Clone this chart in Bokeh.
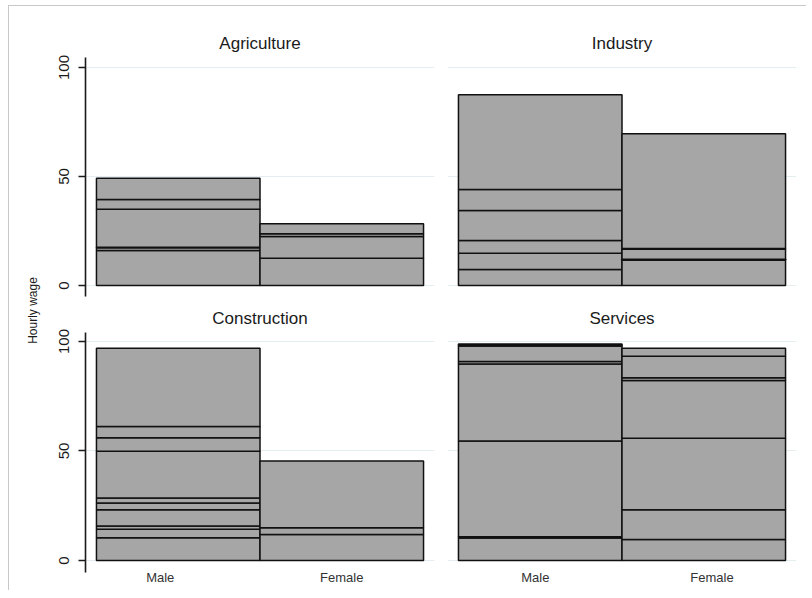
import numpy as np
from bokeh.plotting import figure
from bokeh.models import ColumnDataSource, Range1d, FixedTicker, Grid, Label
from bokeh.layouts import row, column
from bokeh.embed import file_html
from bokeh.resources import INLINE

# ---- data (segment heights of each stacked bar, hourly wage) ----
sectors = ["Agriculture", "Industry", "Construction", "Services"]
sexes = ["Male", "Female"]
y_ticks = [0, 50, 100]

agri_male = [16.0, 1.3, 0.3, 17.4, 4.5, 9.7]
agri_female = [12.5, 10.0, 1.2, 4.6]
ind_male = [7.3, 7.5, 5.8, 13.8, 9.6, 43.5]
ind_female = [11.6, 0.4, 4.6, 0.4, 52.6]
con_male = [10.4, 3.8, 1.5, 7.4, 3.1, 2.3, 21.4, 6.1, 5.2, 35.7]
con_female = [11.9, 3.0, 30.5]
ser_male = [10.3, 0.5, 43.7, 35.2, 1.2, 7.0, 0.5, 0.5]
ser_female = [9.6, 13.5, 32.7, 26.4, 1.2, 9.8, 3.7]

FONT = "Liberation Sans"
BAR_FILL = "#a6a6a6"
GRID_COLOR = "#e4eef0"


def stack_source(male, female):
    d = dict(left=[], right=[], bottom=[], top=[])
    for i, segs in enumerate([male, female]):
        cum = np.concatenate([[0.0], np.cumsum(segs)])
        for b, t in zip(cum[:-1], cum[1:]):
            d["left"].append(i - 0.5)
            d["right"].append(i + 0.5)
            d["bottom"].append(float(b))
            d["top"].append(float(t))
    return ColumnDataSource(d)


def panel(title, male, female, left_axis, label_pos, fh, yr, borders):
    bl, br, bt, bb = borders
    p = figure(
        frame_width=349, frame_height=fh,
        x_range=Range1d(-0.567, 1.567), y_range=Range1d(*yr),
        toolbar_location=None, output_backend="svg",
        x_axis_location="below" if label_pos else None,
        y_axis_location="left" if left_axis else None,
        min_border_left=bl, min_border_right=br,
        min_border_top=bt, min_border_bottom=bb,
        title=title,
    )
    p.outline_line_color = None
    p.background_fill_color = "white"
    p.border_fill_color = "white"
    p.title.align = "center"
    p.title.text_font = FONT
    p.title.text_font_size = "17px"
    p.title.text_font_style = "normal"
    p.title.text_color = "#1a1a1a"
    p.title.standoff = 9
    p.xgrid.visible = False
    p.ygrid.visible = False
    p.add_layout(Grid(dimension=1, ticker=FixedTicker(ticks=y_ticks),
                      grid_line_color=GRID_COLOR, grid_line_width=1.2))
    if left_axis:
        ax = p.yaxis[0]
        ax.ticker = FixedTicker(ticks=y_ticks)
        ax.axis_line_width = 1.6
        ax.axis_line_color = "#1a1a1a"
        ax.major_tick_line_color = "#1a1a1a"
        ax.major_tick_line_width = 1.4
        ax.major_tick_out = 7
        ax.major_tick_in = 0
        ax.minor_tick_line_color = None
        ax.major_label_orientation = "vertical"
        ax.major_label_text_font = FONT
        ax.major_label_text_font_size = "15px"
        ax.major_label_text_color = "#1a1a1a"
        ax.major_label_standoff = 9
    if label_pos:
        ax = p.xaxis[0]
        ax.ticker = FixedTicker(ticks=label_pos)
        ax.major_label_overrides = {label_pos[0]: sexes[0], label_pos[1]: sexes[1]}
        ax.axis_line_color = None
        ax.major_tick_line_color = None
        ax.major_tick_out = 0
        ax.major_tick_in = 0
        ax.minor_tick_line_color = None
        ax.major_label_text_font = FONT
        ax.major_label_text_font_size = "13px"
        ax.major_label_text_color = "#333333"
        ax.major_label_standoff = -3
    src = stack_source(male, female)
    p.quad(left="left", right="right", bottom="bottom", top="top", source=src,
           fill_color=BAR_FILL, line_color="#111111", line_width=1.5)
    return p


YR_TOP = (-5.05, 104.6)
YR_BOT = (-5.5, 104.1)

f_ag = panel(sectors[0], agri_male, agri_female, True, None, 239, YR_TOP, (36, 6, 51, 4))
f_in = panel(sectors[1], ind_male, ind_female, False, None, 239, YR_TOP, (7, 10, 51, 4))
f_co = panel(sectors[2], con_male, con_female, True, [-0.11, 1.0], 240, YR_BOT, (36, 6, 32, 18))
f_se = panel(sectors[3], ser_male, ser_female, False, [-0.03, 1.05], 240, YR_BOT, (7, 10, 32, 18))

# y-axis title column
H = 51 + 239 + 4 + 32 + 240 + 18
lab = figure(width=40, height=H, x_range=Range1d(0, 40), y_range=Range1d(0, H),
             toolbar_location=None, output_backend="svg",
             x_axis_location=None, y_axis_location=None,
             min_border=0)
lab.outline_line_color = None
lab.xgrid.visible = False
lab.ygrid.visible = False
lab.add_layout(Label(x=23, y=H - 304, text="Hourly wage", angle=np.pi / 2,
                     text_align="center", text_baseline="middle",
                     text_font=FONT, text_font_size="12px", text_color="#1a1a1a"))

layout = row(lab, column(row(f_ag, f_in), row(f_co, f_se)),
             styles={"border-top": "1px solid #c8c8c8", "border-left": "1px solid #c8c8c8",
                     "margin-left": "8px", "margin-top": "5px"})

open("out.html", "w").write(file_html(layout, INLINE))
